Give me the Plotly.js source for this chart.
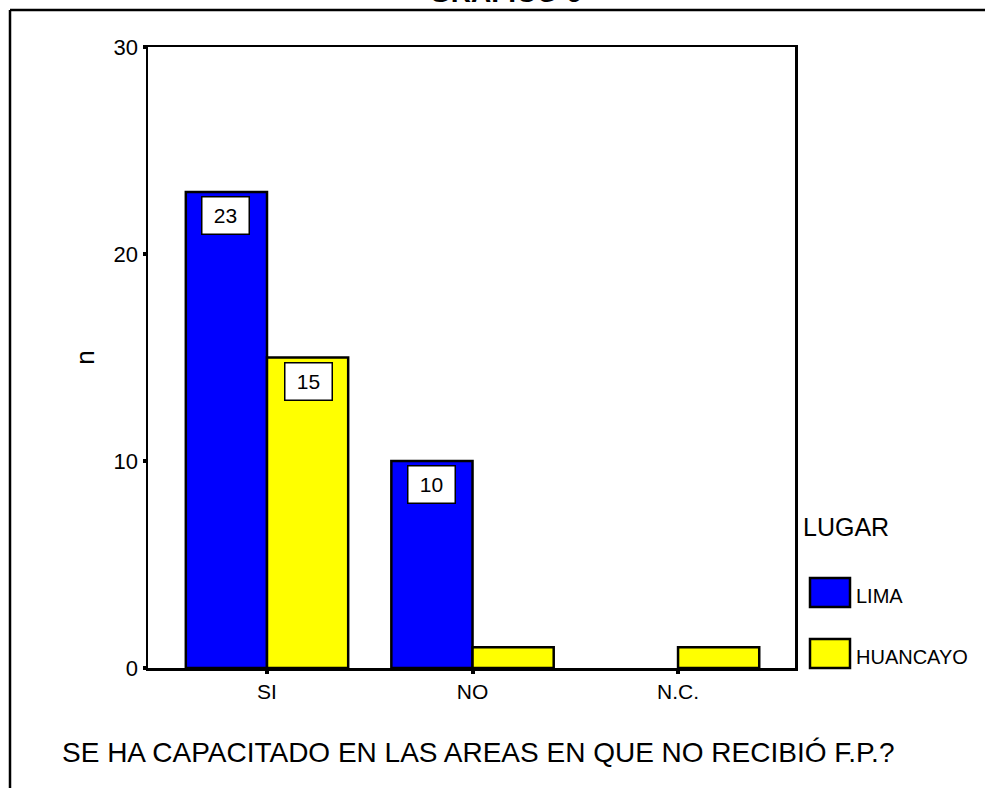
<!DOCTYPE html>
<html>
<head>
<meta charset="utf-8">
<script src="https://cdn.plot.ly/plotly-3.0.1.min.js"></script>
<style>html,body{margin:0;padding:0;background:#fff;}#chart{width:985px;height:788px;}</style>
</head>
<body>
<div id="chart"></div>
<script>
const categories = ["SI", "NO", "N.C."];
const seriesNames = ["LIMA", "HUANCAYO"];
const limaValues = [23, 10, 0];
const huancayoValues = [15, 1, 1];
const labeledPoints = [[0, 0], [1, 0], [0, 1]]; // [series index, category index]
const yTicks = [0, 10, 20, 30];
const colors = ["#0000ff", "#ffff00"];
const chartTitle = "GRAFICO 6";
const xTitle = "SE HA CAPACITADO EN LAS AREAS EN QUE NO RECIBIÓ F.P.?";
const yTitle = "n";
const legendTitle = "LUGAR";

const W = 985, H = 788;
const M = {l: 148, r: 190, t: 47, b: 120};
const pw = W - M.l - M.r, ph = H - M.t - M.b;
const px = x => (x - M.l) / pw;
const py = y => (H - M.b - y) / ph;
const FONT = "Liberation Sans, Arial, sans-serif";

const allValues = [limaValues, huancayoValues];
const traces = allValues.map((vals, i) => ({
  type: "bar",
  name: seriesNames[i],
  x: categories.map((c, k) => k),
  y: vals,
  marker: {color: colors[i], line: {color: "#000", width: vals.map(v => v > 0 ? 2.5 : 0)}},
  showlegend: false,
  hoverinfo: "skip"
}));

const annotations = [];
labeledPoints.forEach(([s, c]) => {
  const v = allValues[s][c];
  annotations.push({
    xref: "x", yref: "y", x: c + (s === 0 ? -0.2 : 0.2), y: v,
    text: String(v), showarrow: false,
    yanchor: "top", xanchor: "center", yshift: -4,
    bgcolor: "#fff", bordercolor: "#000", borderwidth: 1.5, borderpad: 1,
    width: 44, height: 34,
    font: {family: FONT, size: 21, color: "#000"}
  });
});
// Title (cut off at top as in reference)
annotations.push({xref: "paper", yref: "paper", x: px(505), y: py(10), xanchor: "center", yanchor: "bottom",
  text: "<b>" + chartTitle + "</b>", showarrow: false, font: {family: FONT, size: 28, color: "#000"}});
// x title
annotations.push({xref: "paper", yref: "paper", x: px(60), y: py(752), xanchor: "left", yanchor: "middle",
  text: xTitle, showarrow: false, font: {family: FONT, size: 28, color: "#000"}});
// legend title
annotations.push({xref: "paper", yref: "paper", x: px(801), y: py(527), xanchor: "left", yanchor: "middle",
  text: legendTitle, showarrow: false, font: {family: FONT, size: 25, color: "#000"}});

const shapes = [
  {type: "line", xref: "paper", yref: "paper", x0: px(10), y0: py(10), x1: px(990), y1: py(10), line: {color: "#000", width: 2.5}},
  {type: "line", xref: "paper", yref: "paper", x0: px(10), y0: py(10), x1: px(10), y1: py(795), line: {color: "#000", width: 2.5}}
];
const legendY = [593, 654];
seriesNames.forEach((n, i) => {
  shapes.push({type: "rect", xref: "paper", yref: "paper",
    x0: px(810), x1: px(850), y0: py(legendY[i] - 15), y1: py(legendY[i] + 14),
    fillcolor: colors[i], line: {color: "#000", width: 2.5}});
  annotations.push({xref: "paper", yref: "paper", x: px(854), y: py(legendY[i] + 3), xanchor: "left", yanchor: "middle",
    text: n, showarrow: false, font: {family: FONT, size: 20, color: "#000"}});
});

const layout = {
  width: W, height: H,
  margin: M,
  paper_bgcolor: "#fff", plot_bgcolor: "#fff",
  barmode: "group", bargap: 0.21, bargroupgap: 0,
  showlegend: false,
  font: {family: FONT, color: "#000"},
  xaxis: {
    range: [-0.579, 2.569],
    tickvals: categories.map((c, k) => k), ticktext: categories,
    ticks: "outside", ticklen: 3, tickwidth: 4, tickcolor: "#000",
    showline: true, linecolor: "#000", linewidth: 2.5, mirror: true,
    showgrid: false, zeroline: false,
    tickfont: {family: FONT, size: 21, color: "#000"}
  },
  yaxis: {
    range: [0, 30], tickvals: yTicks,
    ticks: "outside", ticklen: 3, tickwidth: 4, tickcolor: "#000",
    showline: true, linecolor: "#000", linewidth: 2.5, mirror: true,
    showgrid: false, zeroline: false,
    tickfont: {family: FONT, size: 22, color: "#000"},
    title: {text: yTitle, font: {family: FONT, size: 26, color: "#000"}, standoff: 12}
  },
  annotations: annotations,
  shapes: shapes
};
Plotly.newPlot("chart", traces, layout, {staticPlot: true});
</script>
</body>
</html>
